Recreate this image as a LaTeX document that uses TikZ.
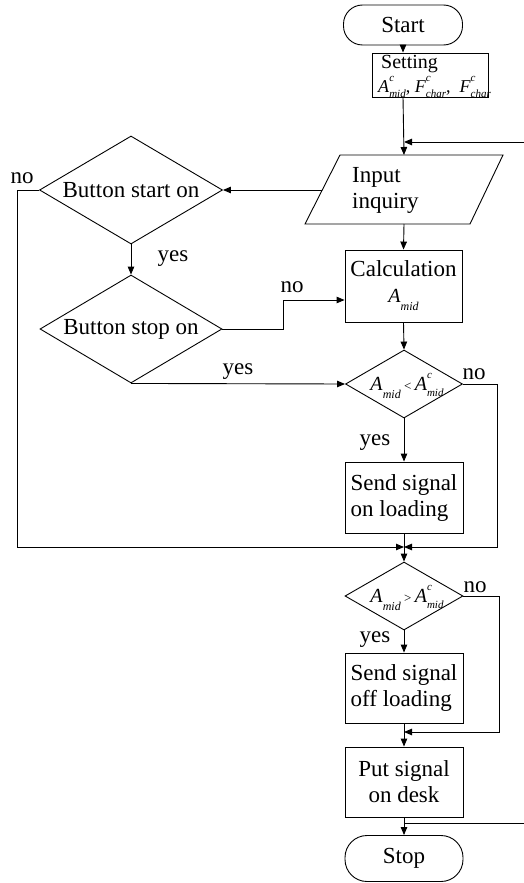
\documentclass[tikz,border=0pt]{standalone}
\usepackage{fontspec}
\setmainfont{Liberation Serif}
\usetikzlibrary{shapes.geometric,arrows.meta}
\newcommand{\Vss}[3]{\textit{#1}\rlap{\raisebox{0.6em}{\fontsize{11}{11}\selectfont\itshape #2}}\raisebox{-0.28em}{\fontsize{11}{11}\selectfont\itshape #3}}
\newcommand{\Vs}[2]{\textit{#1}\raisebox{-0.4em}{\fontsize{12}{12}\selectfont\itshape #2}}
\begin{document}
\begin{tikzpicture}[x=1pt,y=-1pt,
  every node/.style={font=\fontsize{23}{26}\selectfont},
  line/.style={line width=0.9pt, draw=black},
  arr/.style={line, -{Triangle[length=8pt,width=6.5pt]}},
  proc/.style={draw, line width=0.9pt, rectangle, minimum width=118pt, minimum height=71pt, inner sep=3pt},
  term/.style={draw, line width=0.9pt, rectangle, rounded corners=19pt, minimum width=119pt, minimum height=40pt},
  dec/.style={draw, line width=0.9pt, diamond, inner sep=0pt},
  lbl/.style={inner sep=0pt}]
\useasboundingbox (0,0) rectangle (524,883);
% main column
\node[term] (start) at (403,25) {Start};
\node[draw, line width=0.9pt, rectangle, minimum width=116pt, minimum height=44pt, inner sep=0pt] (set) at (430,75) {};
\node[lbl, anchor=north west, align=left, font=\fontsize{20}{24}\selectfont] (sett) at (378,55)
  {\hspace{3pt}Setting\\{\fontsize{18}{20}\selectfont\Vss{A}{c}{mid}, \Vss{F}{c}{char},\enspace\Vss{F}{c}{char}}};
% input parallelogram
\coordinate (pTL) at (340,155);
\coordinate (pTR) at (503,155);
\coordinate (pBR) at (470,224);
\coordinate (pBL) at (305,224);
\draw[line] (pTL) -- (pTR) -- (pBR) -- (pBL) -- cycle;
\coordinate (inpN) at (404,155);
\coordinate (inpS) at (404,224);
\coordinate (inpW) at (322,190);
\node[anchor=west, align=left, inner sep=0pt] (inp) at (352,190) {Input\\inquiry};
\node[proc, minimum width=117pt, minimum height=72pt, align=center] (calc) at (403.5,286)
  {Calculation\\{\fontsize{20}{22}\selectfont\Vs{A}{mid}}};
\node[dec, minimum width=117pt, minimum height=68pt] (d1) at (404,384) {};
\node[lbl] (d1t) at (407,386) {\fontsize{20}{22}\selectfont\Vs{A}{mid}\,{\fontsize{13}{13}\selectfont<}\,\Vss{A}{c}{mid}};
\node[proc, align=left] (son) at (404,497.5) {Send signal\\on loading};
\coordinate (j1) at (404,547);
\node[dec, minimum width=118pt, minimum height=68pt] (d2) at (404,596) {};
\node[lbl] (d2t) at (407,598) {\fontsize{20}{22}\selectfont\Vs{A}{mid}\,{\fontsize{13}{13}\selectfont>}\,\Vss{A}{c}{mid}};
\node[proc, align=left, minimum height=70pt] (soff) at (404,688) {Send signal\\off loading};
\coordinate (j2) at (404,732);
\node[proc, align=center, minimum height=70pt] (put) at (404,782) {Put signal\\on desk};
\coordinate (l1) at (404,823);
\node[term, minimum width=118pt, minimum height=46pt, rounded corners=22pt] (stop) at (404,858.5) {Stop};
% left column
\node[dec, minimum width=183pt, minimum height=108pt, aspect=1.7] (bstart) at (131,190) {Button start on};
\node[dec, minimum width=182pt, minimum height=108pt, aspect=1.7] (bstop) at (131,329) {Button stop on};
% helper coordinates
\coordinate (fb) at (404,142);
\coordinate (fbr) at (530,823);
\coordinate (fbt) at (530,142);
\coordinate (lft) at (17,547);
\coordinate (rt1) at (497,547);
\coordinate (rt2) at (499,732);
% connectors
\draw[arr] (start.south) -- (start.south |- set.north);
\draw[arr] (start.south |- set.south) -- (inpN);
\draw[arr] (l1) -- (fbr) -- (fbt) -- (fb);
\draw[arr] (inpW) -- (bstart.east);
\draw[arr] (inpS) -- (calc.north);
\draw[arr] (bstart.south) -- (bstop.north);
\draw[arr] (bstart.west) -| (lft) -- (j1);
\draw[arr] (bstop.east) -- ++(61,0) |- ([yshift=-14pt]calc.west);
\draw[arr] (bstop.south) -- (d1.west);
\draw[arr] (calc.south) -- (d1.north);
\draw[arr] (d1.south) -- (son.north);
\draw[arr] (d1.east) -| (rt1) -- (j1);
\draw[line] (son.south) -- (j1);
\draw[arr] (j1) -- (d2.north);
\draw[arr] (d2.east) -| (rt2) -- (j2);
\draw[arr] (d2.south) -- (soff.north);
\draw[line] (soff.south) -- (j2);
\draw[arr] (j2) -- (put.north);
\draw[arr] (put.south) -- (stop.north);
% labels
\node[lbl] (n1) at (22,178) {no};
\node[lbl] (y1) at (173,259) {yes};
\node[lbl] (n2) at (292,287) {no};
\node[lbl] (y2) at (238,372) {yes};
\node[lbl] (n3) at (474,374) {no};
\node[lbl] (y3) at (375,443) {yes};
\node[lbl] (n4) at (475,587) {no};
\node[lbl] (y4) at (375,640) {yes};
\end{tikzpicture}
\end{document}
